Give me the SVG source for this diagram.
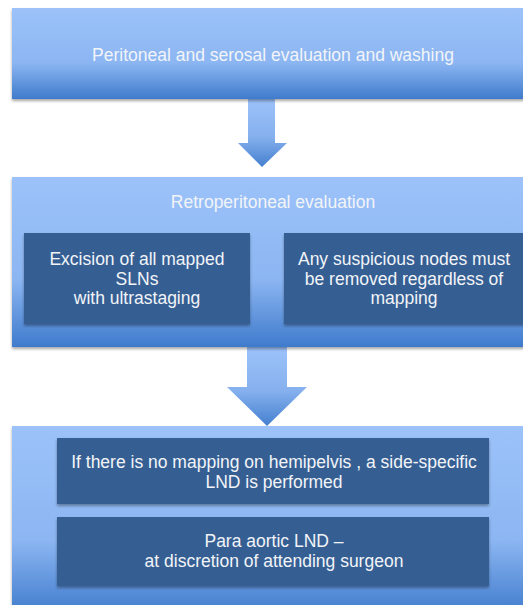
<svg xmlns="http://www.w3.org/2000/svg" width="523" height="605" viewBox="0 0 523 605">
<defs>
<linearGradient id="gBox" x1="0" y1="0" x2="0" y2="1">
<stop offset="0" stop-color="#9cc2f9"/>
<stop offset="0.6" stop-color="#8cb6f2"/>
<stop offset="1" stop-color="#3f7bcc"/>
</linearGradient>
<linearGradient id="gArrow" x1="0" y1="0" x2="0" y2="1">
<stop offset="0" stop-color="#9cc2f9"/>
<stop offset="0.55" stop-color="#86b1ee"/>
<stop offset="1" stop-color="#4580cf"/>
</linearGradient>
<filter id="sh" x="-5%" y="-5%" width="110%" height="115%">
<feDropShadow dx="0" dy="2" stdDeviation="1.5" flood-color="#000" flood-opacity="0.35"/>
</filter>
</defs>
<style>
.outer{fill:url(#gBox);filter:url(#sh)}
.inner{fill:#365f93;filter:url(#sh)}
.arrow{fill:url(#gArrow)}
text{font-family:"Liberation Sans",Arial,sans-serif;font-size:17.5px;fill:#f2f4f8;text-anchor:middle}
</style>
<rect width="523" height="605" fill="#ffffff"/>
<g id="connectors">
<path class="arrow" d="M248,99 H275 V143 H287 L262,167 L238,143 H248 Z"/>
<path class="arrow" d="M247,347 H287 V387 H307 L267,426 L227,387 H247 Z"/>
</g>
<g id="node1">
<rect class="outer" x="12" y="8" width="520" height="91"/>
<text x="273" y="61">Peritoneal and serosal evaluation and washing</text>
</g>
<g id="node2">
<rect class="outer" x="12" y="177" width="520" height="170"/>
<text x="273" y="208">Retroperitoneal evaluation</text>
</g>
<g id="node2a">
<rect class="inner" x="24" y="233" width="226" height="91"/>
<text x="137" y="265">Excision of all mapped</text>
<text x="137" y="285">SLNs</text>
<text x="137" y="304">with ultrastaging</text>
</g>
<g id="node2b">
<rect class="inner" x="284" y="233" width="250" height="91"/>
<text x="404" y="265">Any suspicious nodes must</text>
<text x="404" y="285">be removed regardless of</text>
<text x="404" y="304">mapping</text>
</g>
<g id="node3">
<rect class="outer" x="12" y="426" width="520" height="190"/>
</g>
<g id="node3a">
<rect class="inner" x="57" y="438" width="432" height="66"/>
<text x="274" y="468">If there is no mapping on hemipelvis , a side-specific</text>
<text x="274" y="488">LND is performed</text>
</g>
<g id="node3b">
<rect class="inner" x="57" y="517" width="432" height="69"/>
<text x="274" y="547">Para aortic LND –</text>
<text x="274" y="567">at discretion of attending surgeon</text>
</g>
</svg>
